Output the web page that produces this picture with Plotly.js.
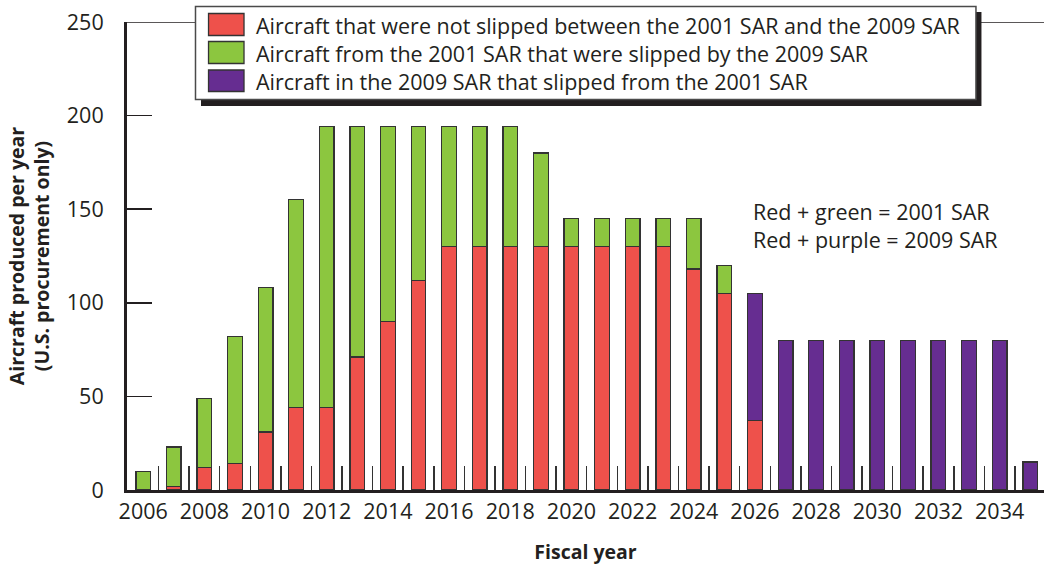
<!DOCTYPE html>
<html>
<head>
<meta charset="utf-8">
<script src="https://cdn.plot.ly/plotly-3.0.1.min.js"></script>
<style>html,body{margin:0;padding:0;background:#fff;}#chart{width:1044px;height:569px;}</style>
</head>
<body>
<div id="chart"></div>
<script>
// ---- data (null = no segment) ----
var years = [2006,2007,2008,2009,2010,2011,2012,2013,2014,2015,2016,2017,2018,2019,2020,
             2021,2022,2023,2024,2025,2026,2027,2028,2029,2030,2031,2032,2033,2034,2035];
var notSlipped = [null,2,12,14,31,44,44,71,90,112,130,130,130,130,130,
                  130,130,130,118,105,37,null,null,null,null,null,null,null,null,null];
var slipped2001 = [10,21,37,68,77,111,150,123,104,82,64,64,64,50,15,
                   15,15,15,27,15,null,null,null,null,null,null,null,null,null,null];
var slipped2009 = [null,null,null,null,null,null,null,null,null,null,null,null,null,null,null,
                   null,null,null,null,null,68,80,80,80,80,80,80,80,80,15];
var seriesNames = [
  "Aircraft that were not slipped between the 2001 SAR and the 2009 SAR",
  "Aircraft from the 2001 SAR that were slipped by the 2009 SAR",
  "Aircraft in the 2009 SAR that slipped from the 2001 SAR"
];
var noteLines = ["Red + green = 2001 SAR", "Red + purple = 2009 SAR"];
var xTickYears = [2006,2008,2010,2012,2014,2016,2018,2020,2022,2024,2026,2028,2030,2032,2034];
var yTicks = [0,50,100,150,200,250];
var xTitle = "Fiscal year";
var yTitle = "Aircraft produced per year<br>(U.S. procurement only)";

// ---- styles ----
var colors = ["#EE514B", "#8CC63F", "#662D91"];
var ink = "#231F20";
var fam = "Open Sans, Noto Sans, sans-serif";
var fs = 21.5, fsB = 19.5;
var barW = 0.48;

var traces = [notSlipped, slipped2001, slipped2009].map(function (vals, i) {
  return {
    type: "bar", x: years, y: vals, name: seriesNames[i], width: barW,
    marker: {color: colors[i], line: {color: "#333333", width: 1.3}},
    hoverinfo: "x+y+name", showlegend: false
  };
});
traces.push({type: "scatter", x: [], y: [], xaxis: "x2", yaxis: "y", showlegend: false, hoverinfo: "skip"});

var xr = [2005.47, 2035.45];
var midTicks = years.slice(0, years.length - 1).map(function (y) { return y + 0.5; });

var lgX0 = 0.0747, lgX1 = 0.9258, lgY0 = 0.8344, lgY1 = 1.0331;
var swX0 = 0.0889, swX1 = 0.1276;
var swRows = [[0.9712, 1.0182], [0.9113, 0.9583], [0.8515, 0.8974]];
var txtY = [0.9925, 0.9337, 0.8739];

var shapes = [
  {type: "line", xref: "paper", yref: "y", x0: 0, x1: 1, y0: 250, y1: 250,
   line: {color: ink, width: 1.5}, layer: "above"},
  {type: "rect", xref: "paper", yref: "paper", x0: 0.0807, x1: 0.9318, y0: 0.8205, y1: 1.0214,
   fillcolor: ink, line: {width: 0}, layer: "above"},
  {type: "rect", xref: "paper", yref: "paper", x0: lgX0, x1: lgX1, y0: lgY0, y1: lgY1,
   fillcolor: "#ffffff", line: {color: "#4a4a4a", width: 1.5}, layer: "above"}
];
swRows.forEach(function (r, i) {
  shapes.push({type: "rect", xref: "paper", yref: "paper", x0: swX0, x1: swX1, y0: r[0], y1: r[1],
    fillcolor: colors[i], line: {color: "#333333", width: 1.3}, layer: "above"});
});

var annotations = seriesNames.map(function (t, i) {
  return {xref: "paper", yref: "paper", x: 0.1385, y: txtY[i], xanchor: "left", yanchor: "middle",
    text: t, showarrow: false, font: {family: fam, size: fs, color: ink}};
});
annotations.push({xref: "paper", yref: "paper", x: 0.681, y: 0.566, xanchor: "left", yanchor: "middle",
  align: "left", text: noteLines.join("<br>"), showarrow: false,
  font: {family: fam, size: fs, color: ink}});

var layout = {
  width: 1044, height: 569,
  margin: {l: 127, r: 0, t: 22, b: 79, pad: 0},
  paper_bgcolor: "#ffffff", plot_bgcolor: "#ffffff",
  barmode: "stack",
  font: {family: fam, color: ink, size: fs},
  xaxis: {
    range: xr, tickmode: "array", tickvals: xTickYears, ticktext: xTickYears.map(String),
    ticks: "", showline: true, linecolor: ink, linewidth: 3, showgrid: false, zeroline: false,
    tickfont: {family: fam, size: fs, color: ink}, ticklabelshift: -2.5,
    title: {text: xTitle, font: {family: fam, size: fsB, color: ink, weight: 700}, standoff: 22},
    fixedrange: true
  },
  xaxis2: {
    overlaying: "x", anchor: "y", side: "bottom", range: xr,
    tickmode: "array", tickvals: midTicks, ticks: "inside", ticklen: 24, tickwidth: 1.5, tickcolor: "#333333",
    showticklabels: false, showline: false, showgrid: false, zeroline: false, fixedrange: true
  },
  yaxis: {
    range: [0, 250], tickmode: "array", tickvals: yTicks,
    ticks: "inside", ticklen: 25, tickwidth: 1.5, tickcolor: ink,
    showline: true, linecolor: ink, linewidth: 3, showgrid: false, zeroline: false,
    tickfont: {family: fam, size: fs, color: ink}, ticklabelstandoff: 16,
    title: {text: yTitle, font: {family: fam, size: fsB, color: ink, weight: 700}, standoff: 12},
    fixedrange: true
  },
  shapes: shapes,
  annotations: annotations,
  showlegend: false
};

Plotly.newPlot("chart", traces, layout, {displayModeBar: false, staticPlot: true});
</script>
</body>
</html>
